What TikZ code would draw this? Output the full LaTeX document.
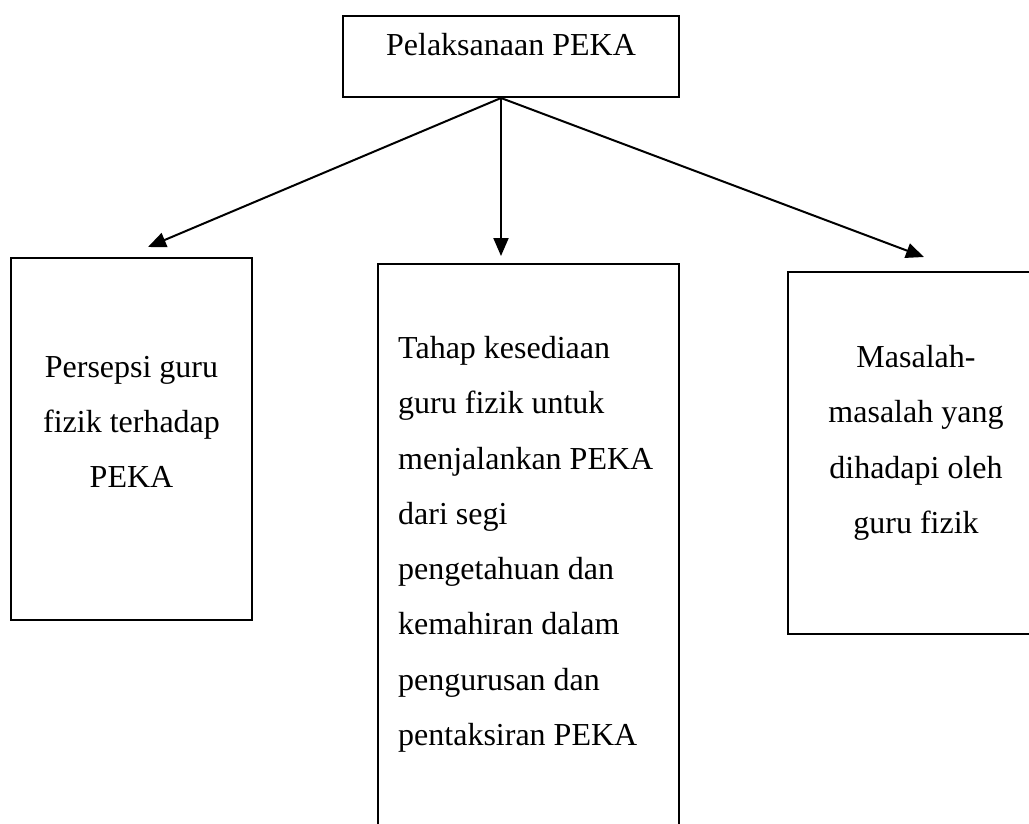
\documentclass[tikz,border=0pt]{standalone}
\usepackage{fontspec}
\setmainfont{Liberation Serif}
\usetikzlibrary{positioning,arrows.meta}

\begin{document}
\begin{tikzpicture}[x=1pt,y=1pt,
  box/.style={rectangle,draw,line width=2pt,anchor=north west,inner sep=0pt},
  txt/.style={inner sep=0pt,font=\fontsize{32}{55.3}\selectfont},
  arr/.style={line width=2pt,-{Triangle[length=18pt,width=15pt]}}]
  \useasboundingbox (0,0) rectangle (1029,-823);
  \clip (0,0) rectangle (1029,-823);
  \node[box,minimum width=336pt,minimum height=81pt] (pelaksanaan) at (342,-15) {};
  \node[box,minimum width=241pt,minimum height=362pt] (persepsi) at (10,-257) {};
  \node[box,minimum width=301pt,minimum height=600pt] (kesediaan) at (377,-263) {};
  \node[box,minimum width=256pt,minimum height=362pt] (masalah) at (787,-271) {};
  \node[txt,below=18pt of pelaksanaan.north] (pelaksanaantxt) {Pelaksanaan PEKA};
  \node[txt,align=center,below=99pt of persepsi.north] (persepsitxt) {Persepsi guru\\fizik terhadap\\PEKA};
  \node[txt,align=left,below right=73pt and 21pt of kesediaan.north west] (kesediaantxt) {Tahap kesediaan\\guru fizik untuk\\menjalankan PEKA\\dari segi\\pengetahuan dan\\kemahiran dalam\\pengurusan dan\\pentaksiran PEKA};
  \node[txt,align=center,below=74pt of masalah.north] (masalahtxt) {Masalah-\\masalah yang\\dihadapi oleh\\guru fizik};
  \coordinate (fork) at ([xshift=-10pt]pelaksanaan.south);
  \draw[arr] (fork) -- ([xshift=16.5pt,yshift=10pt]persepsi.north);
  \draw[arr] (fork) -- ([yshift=7pt]fork |- kesediaan.north);
  \draw[arr] (fork) -- ([xshift=8pt,yshift=14pt]masalah.north);
\end{tikzpicture}
\end{document}
